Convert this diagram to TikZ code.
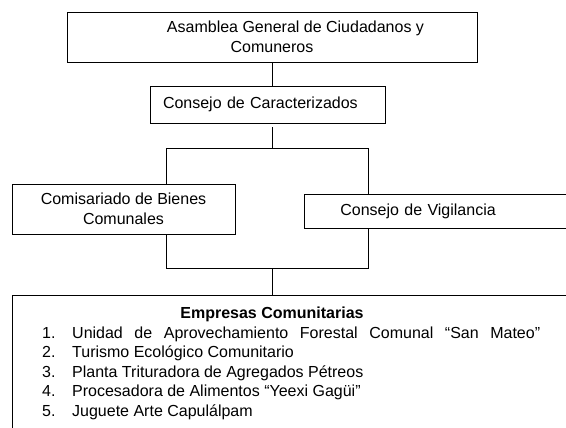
\documentclass[tikz,border=0pt]{standalone}
\usepackage{fontspec}
\setmainfont{Liberation Sans}
\usetikzlibrary{positioning}
\tikzstyle{squared} = [rectangle, draw=black, fill=white, line width=0.8pt, inner sep=0pt, font=\fontsize{16}{20}\selectfont]
\tikzstyle{connect} = [line width=0.8pt]
\tikzstyle{item} = [anchor=base west, inner sep=0pt, font=\fontsize{16}{20}\selectfont]

\begin{document}
\begin{tikzpicture}[x=1pt,y=1pt]
			\useasboundingbox (0,0) rectangle (566,-428);
			\clip (0,0) rectangle (566,-428);
			\coordinate (busL) at (166,-148);
			\coordinate (busR) at (368,-268);
			\draw [connect] (busL) rectangle (busR);
			
			\node (asamblea) [squared, minimum width=410pt, minimum height=50pt, align=center] at (272,-37) {\hspace*{47pt}Asamblea General de Ciudadanos y\\Comuneros};
			\node (caract) [squared, minimum height=37pt, text width=209pt, inner xsep=13pt, align=left] at (267.5,-104.5) {Consejo de Caracterizados};
			\node (comisar) [squared, minimum width=223pt, minimum height=50pt, align=center] at (123.5,-209) {Comisariado de Bienes\\Comunales};
			\node (vigil) [squared, anchor=west, minimum height=34pt, text width=228pt, inner xsep=36pt, align=left] at (304,-211) {Consejo de Vigilancia};
			\node (empresas) [squared, anchor=north west, minimum width=600pt, minimum height=150pt] at (12,-295) {};
			
			\node (titulo) [item, anchor=base, font=\bfseries\fontsize{16}{20}\selectfont] at (272,-318) {Empresas Comunitarias};
			\foreach \texto [count=\i] in {{\makebox[468pt][s]{Unidad de Aprovechamiento Forestal Comunal “San Mateo”}}, {Turismo Ecológico Comunitario}, {Planta Trituradora de Agregados Pétreos}, {Procesadora de Alimentos “Yeexi Gagüi”}, {Juguete Arte Capulálpam}} {
				\node (num\i) [item] at (42,{-338-19.6*(\i-1)}) {\i.};
				\node (item\i) [item] at (72,{-338-19.6*(\i-1)}) {\texto};
			}
			
			\draw [connect] (asamblea.south) -- (asamblea.south |- caract.north);
			\draw [connect] ([yshift=-4pt]asamblea.south |- caract.south) -- (asamblea.south |- busL);
			\draw [connect] (asamblea.south |- busR) -- (asamblea.south |- empresas.north);
\end{tikzpicture}
\end{document}
